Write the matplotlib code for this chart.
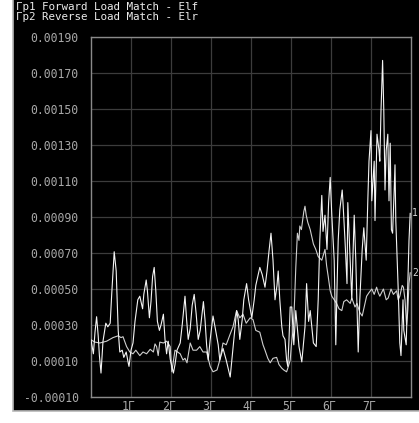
import matplotlib
matplotlib.use("Agg")
import matplotlib.pyplot as plt
from matplotlib.patches import Rectangle
from matplotlib.ticker import FixedLocator
from matplotlib.transforms import ScaledTranslation

# ---------------- data ----------------
title_lines = ["Гр1 Forward Load Match - Elf", "Гр2 Reverse Load Match - Elr"]
x_ticks = [1, 2, 3, 4, 5, 6, 7]
x_tick_labels = ["1Г", "2Г", "3Г", "4Г", "5Г", "6Г", "7Г"]
y_ticks = [-0.0001, 0.0001, 0.0003, 0.0005, 0.0007, 0.0009, 0.0011,
           0.0013, 0.0015, 0.0017, 0.0019]

# trace 1 (Forward Load Match - Elf): frequency in GHz, value in units of 1e-4
f1 = [0.00, 0.06, 0.10, 0.14, 0.18, 0.21, 0.25, 0.30, 0.37, 0.42, 0.48, 0.52,
      0.58, 0.63, 0.68, 0.72, 0.78, 0.82, 0.88, 0.93, 0.95, 1.00, 1.05, 1.10,
      1.17, 1.22, 1.29, 1.32, 1.38, 1.41, 1.46, 1.50, 1.54, 1.58, 1.62, 1.66,
      1.71, 1.75, 1.81, 1.85, 1.89, 1.93, 1.98, 2.06, 2.10, 2.15, 2.23, 2.28,
      2.35, 2.39, 2.43, 2.48, 2.53, 2.58, 2.63, 2.68, 2.73, 2.81, 2.85, 2.89,
      2.93, 2.98, 3.05, 3.10, 3.18, 3.22, 3.30, 3.38, 3.48, 3.52, 3.58, 3.64,
      3.68, 3.72, 3.78, 3.82, 3.89, 3.94, 4.02, 4.08, 4.12, 4.18, 4.22, 4.28,
      4.35, 4.40, 4.45, 4.50, 4.55, 4.60, 4.65, 4.68, 4.72, 4.77, 4.80, 4.85,
      4.89, 4.92, 4.95, 4.98, 5.02, 5.07, 5.12, 5.20, 5.27, 5.35, 5.39, 5.44,
      5.48, 5.56, 5.63, 5.68, 5.72, 5.77, 5.80, 5.85, 5.90, 5.94, 5.98, 6.02,
      6.08, 6.12, 6.15, 6.18, 6.22, 6.28, 6.30, 6.35, 6.40, 6.42, 6.48, 6.52,
      6.55, 6.58, 6.62, 6.68, 6.72, 6.78, 6.82, 6.88, 6.92, 6.95, 7.00, 7.02,
      7.05, 7.08, 7.10, 7.15, 7.20, 7.22, 7.25, 7.29, 7.32, 7.35, 7.38, 7.42,
      7.45, 7.48, 7.51, 7.54, 7.58, 7.60, 7.62, 7.68, 7.72, 7.75, 7.80, 7.82,
      7.88, 7.91, 7.95, 7.98]
v1 = [2.17, 1.4, 2.6, 3.46, 2.4, 1.3, 0.33, 2.1, 3.1, 2.9, 3.1, 4.8,
      7.07, 6.0, 2.7, 1.5, 1.6, 1.2, 1.5, 0.9, 0.7, 1.6, 2.0, 3.2,
      4.4, 4.6, 3.9, 4.7, 5.5, 4.9, 3.4, 4.3, 5.7, 6.2, 4.9, 3.2,
      2.7, 3.0, 3.6, 2.2, 1.4, 2.1, 1.1, 0.33, 0.8, 1.6, 2.0, 3.0,
      4.6, 3.3, 2.2, 2.8, 4.1, 4.7, 3.6, 2.2, 2.7, 4.3, 3.3, 1.9,
      1.05, 2.2, 3.5, 2.9, 1.9, 1.05, 1.7, 1.05, 0.11, 1.05, 2.4, 3.8,
      3.3, 2.2, 3.3, 4.4, 5.3, 4.4, 3.4, 4.4, 5.2, 5.8, 6.2, 5.8,
      5.1, 6.0, 7.1, 8.1, 6.6, 4.4, 5.2, 6.0, 4.4, 2.9, 2.4, 2.2,
      1.05, 0.7, 2.2, 4.0, 4.0, 1.9, 3.8, 1.8, 0.95, 2.9, 5.3, 3.2,
      3.8, 2.0, 1.8, 4.4, 7.7, 10.2, 8.2, 9.1, 7.2, 9.8, 11.2, 9.1,
      6.6, 1.9, 5.0, 7.7, 9.4, 10.5, 9.8, 7.7, 5.3, 9.8, 6.6, 4.4,
      6.9, 9.1, 6.6, 1.5, 4.4, 7.2, 8.4, 6.6, 9.9, 12.1, 13.8, 9.9,
      11.0, 12.1, 8.8, 13.6, 12.7, 12.1, 14.9, 17.7, 14.9, 10.5, 12.7, 13.6,
      9.9, 13.1, 8.3, 8.1, 10.5, 11.9, 8.8, 5.0, 2.0, 1.3, 4.4, 2.7,
      1.9, 4.4, 7.7, 9.2]

# trace 2 (Reverse Load Match - Elr): frequency in GHz, value in units of 1e-4
f2 = [0.00, 0.10, 0.22, 0.39, 0.55, 0.68, 0.75, 0.80, 0.89, 0.97, 1.05, 1.12,
      1.22, 1.30, 1.39, 1.48, 1.56, 1.60, 1.64, 1.68, 1.72, 1.81, 1.89, 1.98,
      2.02, 2.10, 2.23, 2.30, 2.35, 2.40, 2.48, 2.55, 2.64, 2.72, 2.80, 2.89,
      2.98, 3.05, 3.15, 3.22, 3.30, 3.38, 3.48, 3.55, 3.64, 3.72, 3.80, 3.88,
      3.98, 4.05, 4.12, 4.22, 4.30, 4.35, 4.42, 4.48, 4.55, 4.64, 4.70, 4.77,
      4.82, 4.89, 4.92, 4.98, 5.01, 5.06, 5.09, 5.12, 5.16, 5.20, 5.22, 5.26,
      5.29, 5.32, 5.35, 5.38, 5.42, 5.48, 5.56, 5.62, 5.68, 5.77, 5.85, 5.89,
      5.93, 5.98, 6.02, 6.08, 6.14, 6.20, 6.27, 6.32, 6.39, 6.48, 6.52, 6.60,
      6.65, 6.72, 6.78, 6.81, 6.85, 6.89, 6.95, 7.02, 7.08, 7.14, 7.18, 7.22,
      7.31, 7.38, 7.43, 7.50, 7.56, 7.64, 7.68, 7.72, 7.78, 7.81, 7.85, 7.89,
      7.92, 7.95, 7.98]
v2 = [2.17, 2.05, 2.0, 2.1, 2.3, 2.4, 2.3, 2.35, 1.8, 1.5, 1.4, 1.6,
      1.3, 1.5, 1.4, 1.65, 1.5, 1.95, 1.8, 1.3, 2.05, 2.0, 2.1, 1.8,
      0.4, 1.6, 1.4, 1.05, 1.15, 0.9, 2.0, 1.6, 1.6, 1.8, 1.5, 1.5,
      0.7, 0.4, 0.5, 1.05, 2.0, 1.9, 2.5, 2.9, 3.8, 3.4, 3.6, 3.1,
      3.4, 3.3, 2.7, 2.6, 1.9, 1.6, 1.15, 0.9, 1.15, 1.2, 0.8, 0.6,
      0.5, 0.4, 0.6, 1.05, 1.9, 2.9, 4.4, 6.2, 8.1, 7.7, 8.5, 8.3,
      8.8, 9.3, 9.6, 9.1, 8.7, 8.3, 7.5, 7.2, 6.8, 6.6, 7.2, 6.3,
      5.7, 4.9, 4.6, 4.4, 4.2, 3.9, 3.8, 4.3, 4.4, 4.2, 4.5, 4.0,
      4.2, 3.7, 3.5, 3.8, 4.2, 4.6, 4.8, 5.0, 4.7, 5.1, 4.8, 4.6,
      5.0, 4.4, 4.5, 5.0, 4.7, 4.9, 4.4, 4.6, 5.2, 5.1, 4.4, 3.0,
      3.8, 5.3, 5.9]

# ---------------- figure ----------------
W, H = 419, 423
fig = plt.figure(figsize=(W / 100, H / 100), dpi=100, facecolor="white")

# instrument black panel (background axes)
bg = fig.add_axes([13 / W, 1 - 411 / H, 1 - 13 / W + 0.01, 411 / H + 0.01])
bg.set_xlim(0, 1)
bg.set_ylim(0, 1)
bg.set_axis_off()
bg.set_zorder(0)
bg.add_patch(Rectangle((0, 0), 1, 1, transform=bg.transAxes, facecolor="black",
                       edgecolor="#b8b8b8", linewidth=1.2, clip_on=False))

ax = fig.add_axes([91 / W, 1 - 397 / H, (411 - 91) / W, (397 - 37) / H])
ax.set_zorder(1)
ax.set_facecolor("black")

scale = 1e-4
ax.plot(f2, [v * scale for v in v2], color="#cfcfcf", lw=0.8, zorder=3)
ax.plot(f1, [v * scale for v in v1], color="#f4f4f4", lw=0.8, zorder=4)

ax.set_xlim(0, 8)
ax.set_ylim(-0.0001, 0.0019)
ax.xaxis.set_major_locator(FixedLocator(x_ticks))
ax.set_xticklabels(x_tick_labels)
ax.yaxis.set_major_locator(FixedLocator(y_ticks))
ax.set_yticklabels([f"{t:.5f}" for t in y_ticks])

ax.grid(True, color="#3c3c3c", lw=0.9)
ax.set_axisbelow(True)
for s in ax.spines.values():
    s.set_color("#8a8a8a")
    s.set_linewidth(1.0)
ax.tick_params(axis="both", length=0, colors="#a8a8a8", labelsize=8.3)
ax.tick_params(axis="y", pad=9)
ax.tick_params(axis="x", pad=2)
for lab in ax.get_xticklabels() + ax.get_yticklabels():
    lab.set_family("DejaVu Sans Mono")
    lab.set_color("#a8a8a8")
shift = ScaledTranslation(-2 / 100, 0, fig.dpi_scale_trans)
for lab in ax.get_xticklabels():
    lab.set_horizontalalignment("center")
    lab.set_transform(lab.get_transform() + shift)

# trace end markers
ax.text(1.004, v1[-1] * scale, "1", transform=ax.get_yaxis_transform(),
        color="#d8d8d8", fontsize=7, family="DejaVu Sans Mono",
        va="center", ha="left")
ax.text(1.004, v2[-1] * scale, "2", transform=ax.get_yaxis_transform(),
        color="#d8d8d8", fontsize=7, family="DejaVu Sans Mono",
        va="center", ha="left")

# title lines
for i, t in enumerate(title_lines):
    fig.text(16 / W, 1 - (7.5 + 10 * i) / H, t, color="#ececec",
             fontsize=7.8, family="DejaVu Sans Mono", va="center", ha="left",
             zorder=5)

fig.savefig("out.png", dpi=100, facecolor="white")
